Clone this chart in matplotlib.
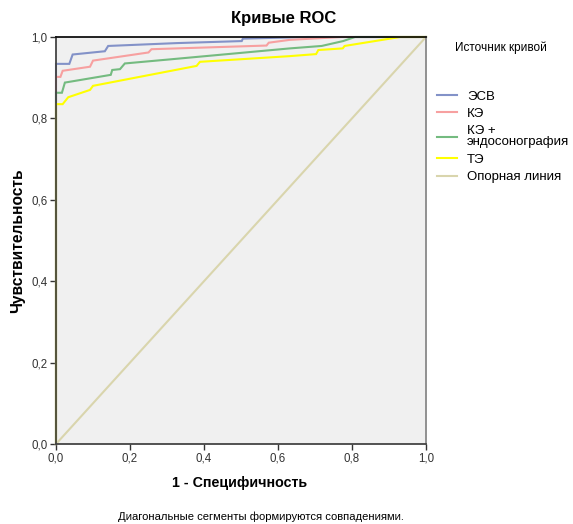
import matplotlib
matplotlib.use("Agg")
import matplotlib.pyplot as plt
from matplotlib import font_manager

names = {f.name for f in font_manager.fontManager.ttflist}
base = "Liberation Sans" if "Liberation Sans" in names else "DejaVu Sans"
narrow = "Liberation Sans Narrow" if "Liberation Sans Narrow" in names else base
plt.rcParams['font.family'] = [base, 'DejaVu Sans']

# Data (1 - specificity, sensitivity)
esv_fpr = [0, 0, 0.036, 0.045, 0.132, 0.141, 0.326, 0.502, 0.505, 0.68, 1.0]
esv_tpr = [0, 0.934, 0.934, 0.957, 0.965, 0.978, 0.985, 0.990, 0.996, 1.0, 1.0]

ke_fpr = [0, 0, 0.012, 0.018, 0.092, 0.100, 0.25, 0.258, 0.569, 0.575, 0.632, 0.772, 1.0]
ke_tpr = [0, 0.902, 0.902, 0.917, 0.927, 0.942, 0.962, 0.970, 0.979, 0.986, 0.993, 1.0, 1.0]

keus_fpr = [0, 0, 0.016, 0.024, 0.148, 0.152, 0.173, 0.186, 0.308, 0.632, 0.718, 0.776, 0.808, 1.0]
keus_tpr = [0, 0.863, 0.863, 0.888, 0.907, 0.919, 0.921, 0.935, 0.945, 0.972, 0.978, 0.990, 1.0, 1.0]

te_fpr = [0, 0, 0.018, 0.033, 0.092, 0.100, 0.380, 0.389, 0.632, 0.703, 0.709, 0.775, 0.78, 0.93, 1.0]
te_tpr = [0, 0.835, 0.835, 0.852, 0.870, 0.880, 0.929, 0.939, 0.953, 0.958, 0.968, 0.972, 0.978, 1.0, 1.0]

ref_x = [0, 1]
ref_y = [0, 1]

labels = ["ЭСВ", "КЭ", "КЭ +\nэндосонография", "ТЭ", "Опорная линия"]
colors = ["#8392c8", "#f7a0a0", "#74bb80", "#ffff00", "#d9d5ad"]
ticks = [0.0, 0.2, 0.4, 0.6, 0.8, 1.0]
tick_labels = ["0,0", "0,2", "0,4", "0,6", "0,8", "1,0"]

W, H = 573, 524
fig = plt.figure(figsize=(W / 100, H / 100), dpi=100)
ax = fig.add_axes([56 / W, 1 - 444 / H, 370 / W, 407 / H])
ax.set_facecolor("#f0f0f0")

series = [(esv_fpr, esv_tpr), (ke_fpr, ke_tpr), (keus_fpr, keus_tpr), (te_fpr, te_tpr), (ref_x, ref_y)]
handles = []
for (x, y), c, lab in zip(series, colors, labels):
    h, = ax.plot(x, y, color=c, lw=1.5, label=lab, clip_on=False, solid_joinstyle="miter")
    handles.append(h)

ax.set_xlim(0, 1)
ax.set_ylim(0, 1)
ax.set_xticks(ticks)
ax.set_yticks(ticks)
ax.set_xticklabels(tick_labels, family=narrow, fontsize=8.3)
ax.set_yticklabels(tick_labels, family=narrow, fontsize=8.3)
ax.tick_params(direction="out", length=4, width=1, colors="#333333", pad=2)
ax.tick_params(top=False, right=False)
for s in ["left", "bottom"]:
    ax.spines[s].set_color("#444444")
    ax.spines[s].set_linewidth(1.3)
ax.spines["top"].set_color("#111111")
ax.spines["top"].set_linewidth(1.3)
ax.spines["right"].set_color("#888888")
ax.spines["right"].set_linewidth(1.3)

ax.set_xlabel("1 - Специфичность", fontsize=10.3, fontweight="bold")
ax.set_ylabel("Чувствительность", fontsize=11.2, fontweight="bold")
ax.xaxis.set_label_coords((240 - 56) / 370, -(483 - 444) / 407)
ax.yaxis.set_label_coords((18 - 56) / 370, (444 - 241) / 407)
ax.xaxis.label.set_va("center")
ax.yaxis.label.set_va("center")

fig.text(284 / W, 1 - 18 / H, "Кривые ROC", ha="center", va="center", fontsize=12, fontweight="bold")
fig.text(261 / W, 1 - 517 / H, "Диагональные сегменты формируются совпадениями.", ha="center", va="center",
         fontsize=8.1)
fig.text(501 / W, 1 - 48 / H, "Источник кривой", ha="center", va="center", fontsize=8.5)

leg = fig.legend(handles=handles, labels=labels, loc="upper left", bbox_to_anchor=(432 / W, 1 - 85 / H),
                 frameon=False, fontsize=9.5, handlelength=1.5, handletextpad=0.75, labelspacing=0.4,
                 borderaxespad=0)
for t in leg.get_texts():
    t.set_linespacing(0.9)

fig.savefig("out.png", dpi=100)
